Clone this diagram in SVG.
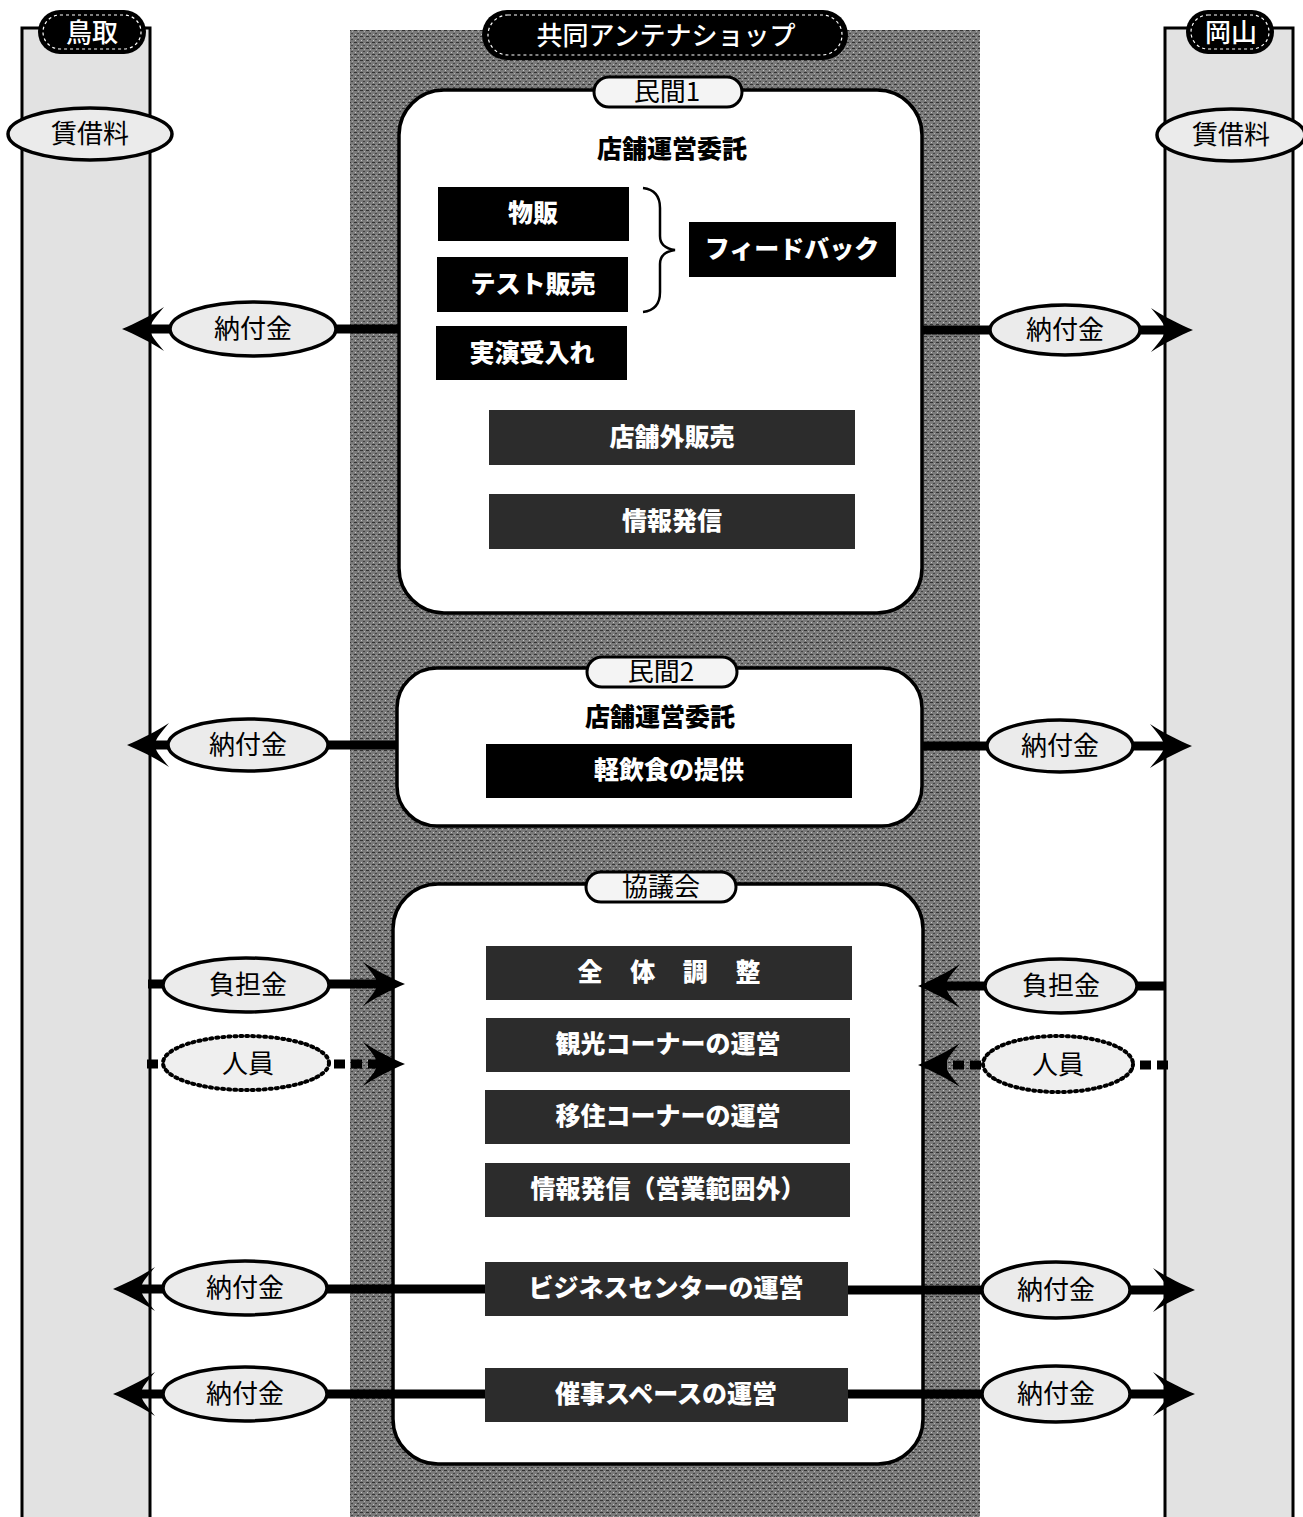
<svg xmlns="http://www.w3.org/2000/svg" width="1303" height="1517" viewBox="0 0 1303 1517">
<style>
text{font-family:"Noto Sans CJK JP","Noto Sans",sans-serif;text-anchor:middle;dominant-baseline:central}
.side{fill:#e2e2e2;stroke:#000;stroke-width:3}
.panel{fill:#fff;stroke:#000;stroke-width:3.5}
.pillB{fill:#000}
.pillIn{fill:none;stroke:#fff;stroke-width:1.2;stroke-dasharray:3 3}
.pillW{fill:#f4f4f4;stroke:#000;stroke-width:3}
.tW{fill:#fff;font-size:26px;font-weight:500}
.tK{fill:#000;font-size:26px}
.head{fill:#000;font-size:25px;font-weight:900}
.box{fill:#000}
.boxT{fill:#2c2c2c}
.bt{fill:#fff;font-size:25px;font-weight:900}
.ell{fill:#ebebeb;stroke:#000;stroke-width:3.5}
.ellD{fill:#efefef;stroke:#000;stroke-width:4;stroke-dasharray:2 4;stroke-linecap:round}
.ln{stroke:#000;stroke-width:9;fill:none}
.lnD{stroke:#000;stroke-width:9;fill:none;stroke-dasharray:11 6}
.lt{fill:#000;font-size:26px}
</style>
<defs>
<pattern id="tex" width="6" height="6" patternUnits="userSpaceOnUse">
<rect width="6" height="6" fill="#7a7a7a"/>
<rect x="0" y="0" width="3" height="1" fill="#333"/>
<rect x="3" y="3" width="2" height="1" fill="#444"/>
<rect x="1" y="4" width="1" height="1" fill="#c4c4c4"/>
<rect x="4" y="1" width="1" height="1" fill="#b0b0b0"/>
</pattern>
<pattern id="stex" width="8" height="6" patternUnits="userSpaceOnUse">
<rect width="8" height="6" fill="#e6e6e6"/>
<rect x="0" y="1" width="3" height="1" fill="#b0b0b0"/>
<rect x="5" y="4" width="2" height="1" fill="#b8b8b8"/>
</pattern>
<marker id="ah" viewBox="0 0 44 44" refX="24" refY="22" markerWidth="44" markerHeight="44" markerUnits="userSpaceOnUse" orient="auto">
<path d="M44 22 C30 16 14 8 2 0 C10 10 16 16 16 22 C16 28 10 34 2 44 C14 36 30 28 44 22 Z" fill="#000"/>
</marker>
</defs>

<g id="tottori">
<rect class="side" x="22" y="28" width="128" height="1500" fill="url(#stex)"/>
<rect class="pillB" x="38" y="10" width="108" height="44" rx="22"/>
<rect class="pillIn" x="43" y="15" width="98" height="34" rx="17"/>
<text class="tW" x="92" y="30">鳥取</text>
</g>

<g id="okayama">
<rect class="side" x="1165" y="28" width="128" height="1500" fill="url(#stex)"/>
<rect class="pillB" x="1186" y="10" width="88" height="44" rx="22"/>
<rect class="pillIn" x="1191" y="15" width="78" height="34" rx="17"/>
<text class="tW" x="1231" y="30">岡山</text>
</g>

<g id="shop">
<rect x="350" y="30" width="630" height="1500" fill="url(#tex)"/>
<rect class="pillB" x="482" y="10" width="366" height="50" rx="25"/>
<rect class="pillIn" x="488" y="15" width="354" height="40" rx="20"/>
<text class="tW" x="666" y="33">共同アンテナショップ</text>
</g>

<g id="minkan1">
<rect class="panel" x="399" y="90" width="523" height="523" rx="45"/>
<rect class="pillW" x="594" y="77" width="148" height="30" rx="15"/>
<text class="tK" x="667" y="89">民間1</text>
<text class="head" x="672" y="147">店舗運営委託</text>
<g id="buppan"><rect class="box" x="438" y="187" width="191" height="54"/><text class="bt" x="533" y="211">物販</text></g>
<g id="test"><rect class="box" x="437" y="257" width="191" height="55"/><text class="bt" x="533" y="282">テスト販売</text></g>
<g id="jitsuen"><rect class="box" x="436" y="326" width="191" height="54"/><text class="bt" x="532" y="351">実演受入れ</text></g>
<path d="M643 188 Q660 190 660 208 L660 236 Q660 248 675 250 Q660 252 660 264 L660 292 Q660 310 643 312" fill="none" stroke="#000" stroke-width="2.5"/>
<g id="feedback"><rect class="box" x="689" y="222" width="207" height="55"/><text class="bt" x="792" y="247">フィードバック</text></g>
<g id="gaihan"><rect class="boxT" x="489" y="410" width="366" height="55"/><text class="bt" x="672" y="435">店舗外販売</text></g>
<g id="joho1"><rect class="boxT" x="489" y="494" width="366" height="55"/><text class="bt" x="672" y="519">情報発信</text></g>
</g>

<g id="minkan2">
<rect class="panel" x="397" y="668" width="525" height="158" rx="40"/>
<rect class="pillW" x="587" y="657" width="150" height="30" rx="15"/>
<text class="tK" x="661" y="669">民間2</text>
<text class="head" x="660" y="715">店舗運営委託</text>
<g id="keiinshoku"><rect class="box" x="486" y="744" width="366" height="54"/><text class="bt" x="669" y="768">軽飲食の提供</text></g>
</g>

<g id="kyogikai">
<rect class="panel" x="393" y="884" width="530" height="580" rx="45"/>
<rect class="pillW" x="586" y="872" width="150" height="30" rx="15"/>
<text class="tK" x="661" y="884">協議会</text>
<g id="zentai"><rect class="boxT" x="486" y="946" width="366" height="54"/><text class="bt" x="669" y="970" word-spacing="22">全 体 調 整</text></g>
<g id="kanko"><rect class="boxT" x="486" y="1018" width="364" height="54"/><text class="bt" x="668" y="1042">観光コーナーの運営</text></g>
<g id="iju"><rect class="boxT" x="485" y="1090" width="365" height="54"/><text class="bt" x="668" y="1114">移住コーナーの運営</text></g>
<g id="joho2"><rect class="boxT" x="485" y="1163" width="365" height="54"/><text class="bt" x="668" y="1187">情報発信（営業範囲外）</text></g>
<g id="business"><rect class="boxT" x="485" y="1262" width="363" height="54"/><text class="bt" x="666" y="1286">ビジネスセンターの運営</text></g>
<g id="saiji"><rect class="boxT" x="485" y="1368" width="363" height="54"/><text class="bt" x="666" y="1392">催事スペースの運営</text></g>
</g>

<g id="rent-labels">
<ellipse class="ell" cx="90" cy="134" rx="82" ry="26"/>
<text class="lt" x="90" y="131">賃借料</text>
<ellipse class="ell" cx="1231" cy="135" rx="74" ry="26"/>
<text class="lt" x="1231" y="132">賃借料</text>
</g>

<g id="connectors">
<path class="ln" d="M400 329 L142 329" marker-end="url(#ah)"/>
<path class="ln" d="M922 330 L1173 330" marker-end="url(#ah)"/>
<path class="ln" d="M397 745 L147 745" marker-end="url(#ah)"/>
<path class="ln" d="M922 746 L1172 746" marker-end="url(#ah)"/>
<path class="ln" d="M148 984 L385 984" marker-end="url(#ah)"/>
<path class="ln" d="M1165 986 L938 986" marker-end="url(#ah)"/>
<path class="lnD" d="M147 1064 L385 1064" marker-end="url(#ah)"/>
<path class="lnD" d="M1168 1065 L938 1065" marker-end="url(#ah)"/>
<path class="ln" d="M485 1289 L133 1289" marker-end="url(#ah)"/>
<path class="ln" d="M848 1290 L1175 1290" marker-end="url(#ah)"/>
<path class="ln" d="M485 1394 L133 1394" marker-end="url(#ah)"/>
<path class="ln" d="M848 1394 L1175 1394" marker-end="url(#ah)"/>

<ellipse class="ell" cx="253" cy="329" rx="83" ry="27"/>
<text class="lt" x="253" y="326">納付金</text>
<ellipse class="ell" cx="1065" cy="330" rx="75" ry="25"/>
<text class="lt" x="1065" y="327">納付金</text>
<ellipse class="ell" cx="248" cy="745" rx="80" ry="26"/>
<text class="lt" x="248" y="742">納付金</text>
<ellipse class="ell" cx="1060" cy="746" rx="73" ry="26"/>
<text class="lt" x="1060" y="743">納付金</text>
<ellipse class="ell" cx="246" cy="985" rx="83" ry="27"/>
<text class="lt" x="248" y="982">負担金</text>
<ellipse class="ell" cx="1061" cy="986" rx="76" ry="27"/>
<text class="lt" x="1061" y="983">負担金</text>
<ellipse class="ellD" cx="246" cy="1063" rx="83" ry="27"/>
<text class="lt" x="248" y="1061">人員</text>
<ellipse class="ellD" cx="1058" cy="1064" rx="75" ry="28"/>
<text class="lt" x="1058" y="1062">人員</text>
<ellipse class="ell" cx="245" cy="1288" rx="82" ry="27"/>
<text class="lt" x="245" y="1285">納付金</text>
<ellipse class="ell" cx="1056" cy="1290" rx="74" ry="28"/>
<text class="lt" x="1056" y="1287">納付金</text>
<ellipse class="ell" cx="245" cy="1394" rx="82" ry="27"/>
<text class="lt" x="245" y="1391">納付金</text>
<ellipse class="ell" cx="1056" cy="1394" rx="74" ry="28"/>
<text class="lt" x="1056" y="1391">納付金</text>
</g>
</svg>
